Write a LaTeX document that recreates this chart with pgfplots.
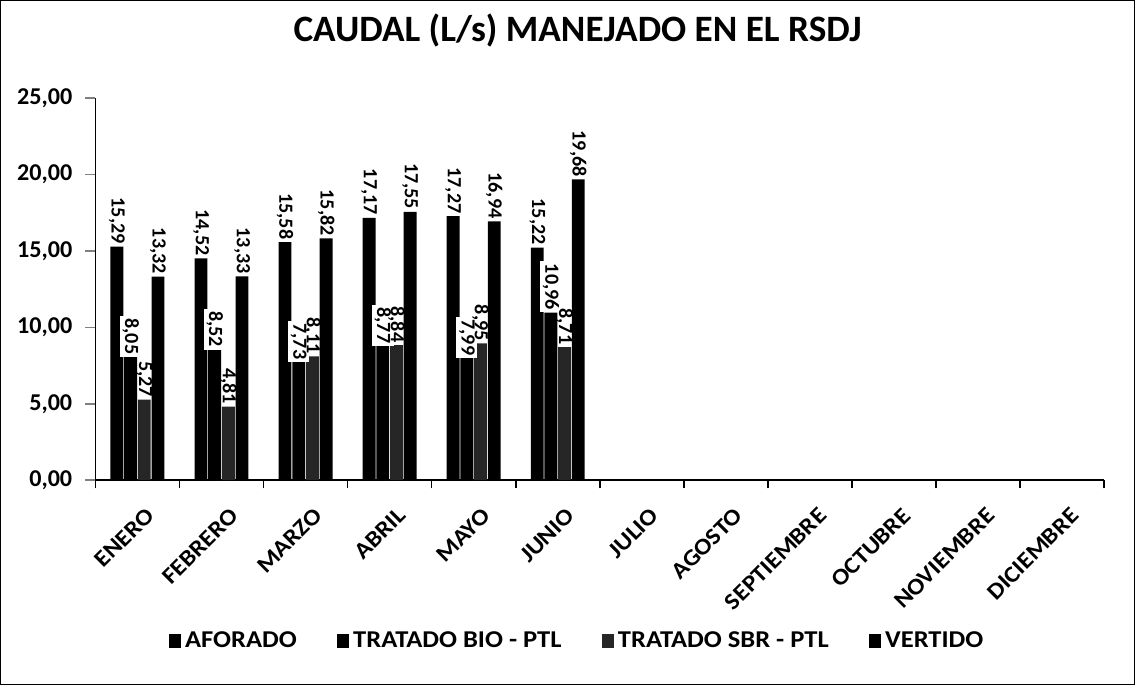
\documentclass[border=0pt]{standalone}
\usepackage{pgfplots}
\pgfplotsset{compat=1.18}
\usepackage{fontspec}
\setmainfont{Carlito}
\newfontfamily\widefont[FakeStretch=1.1]{Carlito}
\begin{document}
\begin{tikzpicture}
\begin{axis}[
  scale only axis,
  width=501.5pt, height=190pt,
  ybar=0.4pt, bar width=6.4pt,
  xmin=-0.5, xmax=11.5,
  ymin=0, ymax=25,
  axis x line*=bottom, axis y line*=left,
  axis line style={-, black, line width=0.8pt},
  tick align=outside,
  ytick={0,5,10,15,20,25},
  major tick length=5pt,
  xtick={0,...,11},
  xticklabels={ENERO,FEBRERO,MARZO,ABRIL,MAYO,JUNIO,JULIO,AGOSTO,SEPTIEMBRE,OCTUBRE,NOVIEMBRE,DICIEMBRE},
  x tick style={draw=none},
  minor xtick={-0.5,0.5,...,11.5},
  minor x tick style={draw=black, line width=0.8pt},
  minor tick length=4pt,
  y tick style={line width=0.8pt},
  x tick label style={rotate=45, anchor=north east, font=\widefont\bfseries\fontsize{11.5}{13}\selectfont, inner sep=0pt, xshift=-3pt, yshift=-8pt},
  y tick label style={font=\bfseries\fontsize{12}{14}\selectfont, xshift=-3pt},
  /pgf/number format/.cd, assume math mode=true, use comma, fixed, fixed zerofill, precision=2, 1000 sep={},
  /pgfplots/.cd,
  title={\bfseries\fontsize{18.5}{21}\selectfont CAUDAL (L/s) MANEJADO EN EL RSDJ},
  title style={at={(0.478,1.145)}, anchor=center},
  nodes near coords,
  every node near coord/.append style={rotate=-90, anchor=east, font=\bfseries\fontsize{10}{12}\selectfont, inner sep=1.2pt},
  legend columns=4,
  legend style={at={(0.4786,-0.42)}, anchor=center, draw=none, font=\widefont\bfseries\fontsize{12}{14}\selectfont, /tikz/every even column/.append style={column sep=18pt}},
  legend image code/.code={\fill[#1] (0pt,-3.5pt) rectangle (6pt,3.5pt);},
  clip=false,
]
\addplot[fill=black, draw=none] coordinates {(0,15.29) (1,14.52) (2,15.58) (3,17.17) (4,17.27) (5,15.22)};
\addplot[fill=black, draw=none, every node near coord/.append style={fill=white}] coordinates {(0,8.05) (1,8.52) (2,7.73) (3,8.77) (4,7.99) (5,10.96)};
\addplot[fill=black!85, draw=none] coordinates {(0,5.27) (1,4.81) (2,8.11) (3,8.84) (4,8.95) (5,8.71)};
\addplot[fill=black, draw=none] coordinates {(0,13.32) (1,13.33) (2,15.82) (3,17.55) (4,16.94) (5,19.68)};
\legend{AFORADO, TRATADO BIO - PTL, TRATADO SBR - PTL, VERTIDO}
\draw[black, line width=0.6pt] (rel axis cs:-0.094,-0.534) rectangle (rel axis cs:1.030,1.255);
\end{axis}
\end{tikzpicture}
\end{document}
